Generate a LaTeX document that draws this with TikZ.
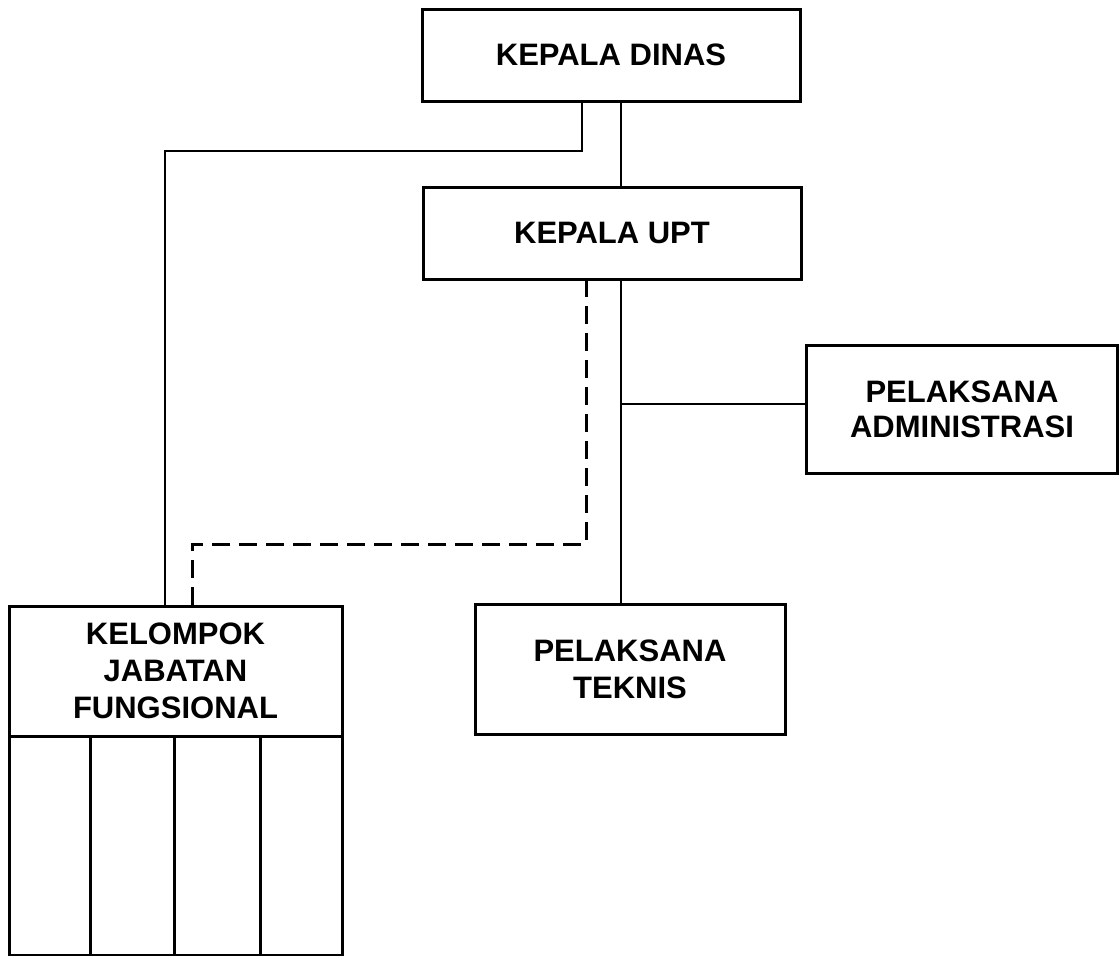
\documentclass[tikz,border=0pt]{standalone}
\usepackage{fontspec}
\setmainfont{Liberation Sans}
\begin{document}
\begin{tikzpicture}[x=1pt,y=-1pt,
  box/.style={draw=black,line width=3pt,rectangle,inner sep=0pt,outer sep=0pt,align=center,
    font=\fontsize{31}{37}\selectfont\bfseries},
  conn/.style={draw=black,line width=2.2pt},
  dconn/.style={draw=black,line width=3pt,dash pattern=on 18pt off 9pt}]
\useasboundingbox (0,0) rectangle (1120,956);
\node[box,minimum width=378pt,minimum height=92pt] (dinas) at (611,55) {KEPALA DINAS};
\node[box,minimum width=378pt,minimum height=92pt] (upt) at (612,233) {KEPALA UPT};
\node[box,minimum width=311pt,minimum height=128pt,font=\fontsize{31}{35}\selectfont\bfseries] (admin) at (962,409) {PELAKSANA\\ADMINISTRASI};
\node[box,minimum width=310pt,minimum height=130pt] (teknis) at (630,669) {PELAKSANA\\TEKNIS};
\node[box,minimum width=333pt,minimum height=130pt] (kjf) at (175.5,671) {KELOMPOK\\JABATAN\\FUNGSIONAL};
\draw[line width=3pt] (kjf.south west) rectangle (342,955);
\foreach \x/\n in {90/d1,174/d2,260/d3}{
  \coordinate (\n) at (\x,955);
  \draw[line width=3pt] (kjf.south -| \n) -- (\n);
}
% connectors
\coordinate (cx) at (621,0);
\coordinate (lx1) at (582,151);
\coordinate (lx2) at (165,151);
\coordinate (dx1) at (586,544);
\coordinate (dx2) at (192,544);
\coordinate (hx) at (621,404);
\draw[conn] (dinas.south -| lx1) -- (lx1) -- (lx2) -- (kjf.north -| lx2);
\draw[conn] (dinas.south -| cx) -- (upt.north -| cx);
\draw[dconn] (upt.south -| dx1) -- (dx1) -- (dx2) -- (kjf.north -| dx2);
\draw[conn] (upt.south -| cx) -- (teknis.north -| cx);
\draw[conn] (hx) -- (admin.west |- hx);
\end{tikzpicture}
\end{document}
